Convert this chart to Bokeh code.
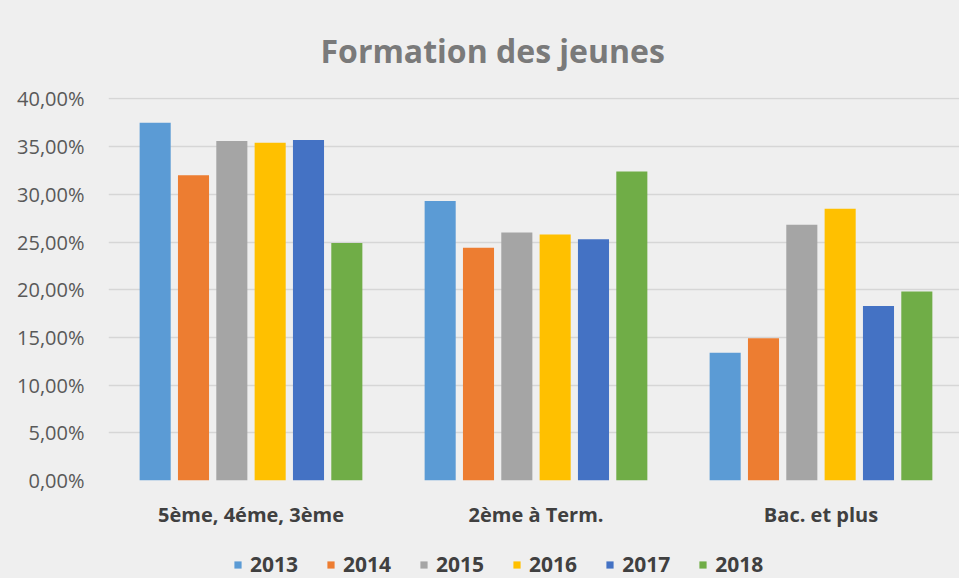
from bokeh.plotting import figure
from bokeh.layouts import column
from bokeh.models import ColumnDataSource, Range1d, FixedTicker, Legend, LegendItem
from bokeh.transform import dodge
from bokeh.embed import file_html
from bokeh.resources import INLINE

categories = ["5ème, 4éme, 3ème", "2ème à Term.", "Bac. et plus"]
years = ["2013", "2014", "2015", "2016", "2017", "2018"]
v2013 = [0.375, 0.293, 0.134]
v2014 = [0.320, 0.244, 0.149]
v2015 = [0.356, 0.260, 0.268]
v2016 = [0.354, 0.258, 0.285]
v2017 = [0.357, 0.253, 0.183]
v2018 = [0.249, 0.324, 0.198]
series = [v2013, v2014, v2015, v2016, v2017, v2018]
colors = ["#5B9BD5", "#ED7D31", "#A5A5A5", "#FFC000", "#4472C4", "#70AD47"]
y_ticks = [0.0, 0.05, 0.10, 0.15, 0.20, 0.25, 0.30, 0.35, 0.40]
y_tick_labels = ["0,00%", "5,00%", "10,00%", "15,00%", "20,00%", "25,00%", "30,00%", "35,00%", "40,00%"]

BG = "#efefef"
x_pos = [i + 0.5 for i in range(len(categories))]
data = {"x": x_pos}
for y, s in zip(years, series):
    data["y" + y] = s
src = ColumnDataSource(data)

p = figure(width=959, height=540, output_backend="svg", toolbar_location=None,
           x_range=Range1d(0, 2.986), y_range=Range1d(0, 0.4015),
           min_border_left=108, min_border_right=0, min_border_top=96, min_border_bottom=60,
           background_fill_alpha=0, border_fill_color=BG, outline_line_color=None)

pitch = 0.1345
width = 0.109
for k, (y, c) in enumerate(zip(years, colors)):
    p.vbar(x=dodge("x", (k - 2.5) * pitch, range=p.x_range), top="y" + y, width=width,
           source=src, fill_color=c, line_color=None)

p.title.text = "Formation des jeunes"
p.title.align = "left"
p.title.offset = 212
p.title.text_font = "Open Sans"
p.title.text_font_size = "32px"
p.title.text_font_style = "bold"
p.title.text_color = "#7a7a7a"
p.title.standoff = 52

p.yaxis.ticker = FixedTicker(ticks=y_ticks)
p.yaxis.major_label_overrides = {t: l for t, l in zip(y_ticks, y_tick_labels)}
p.yaxis.major_label_text_font = "Open Sans"
p.yaxis.major_label_text_font_size = "20px"
p.yaxis.major_label_text_color = "#595959"
p.yaxis.axis_line_color = None
p.yaxis.major_tick_line_color = None
p.yaxis.minor_tick_line_color = None
p.yaxis.major_tick_out = 0
p.yaxis.major_tick_in = 0
p.yaxis.minor_tick_out = 0
p.yaxis.major_label_standoff = 24

p.xaxis.ticker = FixedTicker(ticks=x_pos)
p.xaxis.major_label_overrides = {t: l for t, l in zip(x_pos, categories)}
p.xaxis.major_label_text_font = "Open Sans"
p.xaxis.major_label_text_font_size = "20px"
p.xaxis.major_label_text_font_style = "bold"
p.xaxis.major_label_text_color = "#404040"
p.xaxis.axis_line_color = None
p.xaxis.major_tick_line_color = None
p.xaxis.minor_tick_line_color = None
p.xaxis.major_tick_out = 0
p.xaxis.major_tick_in = 0
p.xaxis.minor_tick_out = 0
p.xaxis.major_label_standoff = 20

p.xgrid.grid_line_color = None
p.ygrid.grid_line_color = "#d6d6d6"
p.ygrid.grid_line_width = 1.5

# legend strip (its bars fall outside its y range, only the legend is seen)
leg = figure(width=959, height=38, output_backend="svg", toolbar_location=None,
             x_range=Range1d(0, 2.986), y_range=Range1d(1, 2),
             x_axis_location=None, y_axis_location=None,
             min_border_left=0, min_border_right=0, min_border_top=0, min_border_bottom=0,
             background_fill_alpha=0, border_fill_color=BG, outline_line_color=None)
leg.xgrid.grid_line_color = None
leg.ygrid.grid_line_color = None
items = []
for y, c in zip(years, colors):
    r = leg.vbar(x="x", top="y" + y, width=0.1, source=src, fill_color=c, line_color=None)
    items.append(LegendItem(label=y, renderers=[r]))

legend = Legend(items=items, orientation="horizontal", location=(125, 0),
                background_fill_alpha=0, border_line_color=None,
                label_text_font="Open Sans", label_text_font_size="21px",
                label_text_font_style="bold", label_text_color="#404040",
                glyph_width=9, glyph_height=9, label_standoff=8, spacing=28,
                padding=0, margin=0)
leg.add_layout(legend, "center")

layout = column(p, leg, spacing=0, styles={"background-color": BG})
open("out.html", "w").write(file_html(layout, INLINE))
